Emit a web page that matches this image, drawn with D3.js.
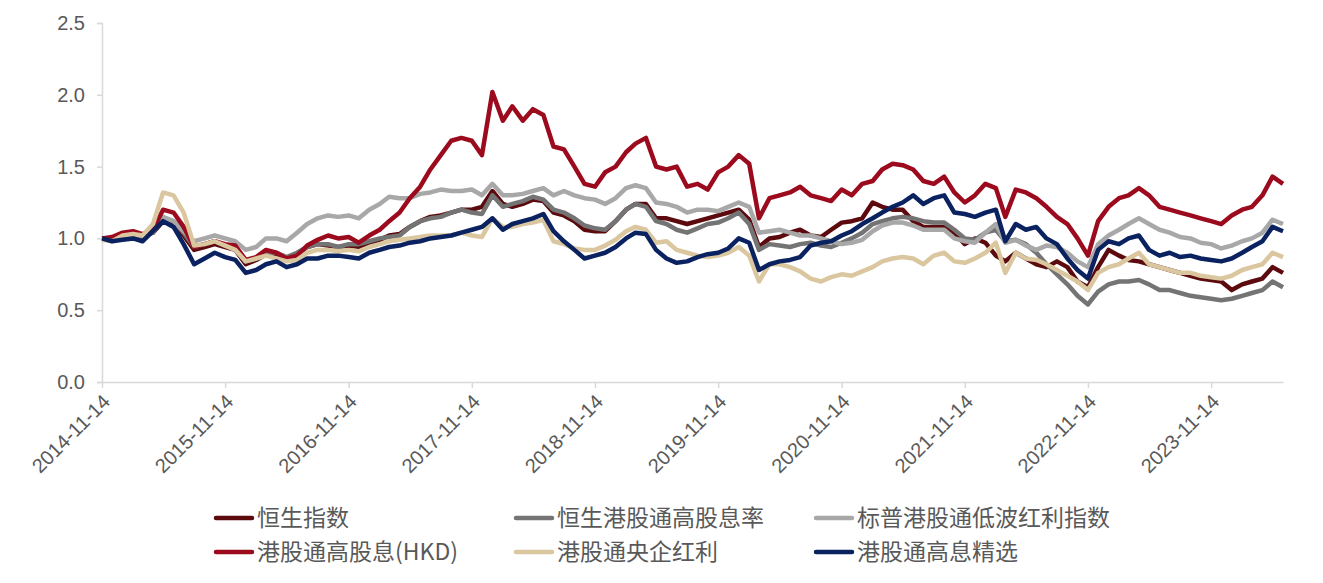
<!DOCTYPE html>
<html><head><meta charset="utf-8">
<script src="https://cdn.jsdelivr.net/npm/d3@7/dist/d3.min.js"></script>
<style>body{margin:0;background:#fff;}svg{display:block;}</style>
</head><body><svg id="c" width="1323" height="583"></svg>
<script>
const startDate = "2014-11-14";
const xTickLabels = ["2014-11-14","2015-11-14","2016-11-14","2017-11-14","2018-11-14","2019-11-14","2020-11-14","2021-11-14","2022-11-14","2023-11-14"];
const yTicks = [0.0,0.5,1.0,1.5,2.0,2.5];
const seriesNames = ["恒生指数","恒生港股通高股息率","标普港股通低波红利指数","港股通高股息(HKD)","港股通央企红利","港股通高息精选"];
const seriesColors = ["#5C0A0E","#747474","#A8A8A8","#9C0A1E","#DAC79F","#0B2260"];

const hsi = [1.00,1.00,1.03,1.03,1.02,1.04,1.12,1.10,1.02,0.92,
0.94,0.96,0.94,0.92,0.82,0.85,0.89,0.89,0.86,0.89,
0.94,0.96,0.95,0.94,0.95,0.94,0.97,0.99,1.02,1.03,
1.08,1.12,1.15,1.16,1.18,1.20,1.20,1.22,1.33,1.24,
1.22,1.24,1.27,1.26,1.18,1.16,1.12,1.06,1.05,1.05,
1.12,1.20,1.24,1.24,1.14,1.14,1.12,1.10,1.12,1.14,
1.16,1.18,1.20,1.13,0.94,1.00,1.01,1.04,1.06,1.02,
1.01,1.06,1.11,1.12,1.14,1.25,1.22,1.20,1.20,1.12,
1.08,1.08,1.08,1.04,0.96,1.00,0.97,0.88,0.84,0.90,
0.86,0.82,0.80,0.84,0.80,0.70,0.66,0.80,0.92,0.88,
0.85,0.84,0.82,0.80,0.78,0.76,0.74,0.72,0.71,0.70,
0.64,0.68,0.70,0.72,0.80,0.76];
const hsHighDiv = [1.00,0.99,1.01,1.02,1.01,1.04,1.14,1.12,1.04,0.94,
0.96,0.98,0.95,0.94,0.84,0.86,0.90,0.90,0.87,0.90,
0.94,0.96,0.96,0.94,0.96,0.96,0.98,1.00,1.01,1.02,
1.08,1.12,1.14,1.15,1.18,1.20,1.18,1.17,1.30,1.22,
1.24,1.26,1.29,1.27,1.20,1.18,1.14,1.09,1.07,1.06,
1.12,1.20,1.24,1.22,1.12,1.10,1.06,1.04,1.07,1.10,
1.11,1.14,1.18,1.10,0.92,0.96,0.95,0.94,0.96,0.97,
0.95,0.94,0.97,1.00,1.04,1.10,1.12,1.14,1.15,1.14,
1.12,1.11,1.11,1.06,1.00,0.99,1.04,1.06,0.98,0.99,
0.96,0.90,0.82,0.75,0.68,0.60,0.54,0.63,0.68,0.70,
0.70,0.71,0.68,0.64,0.64,0.62,0.60,0.59,0.58,0.57,
0.58,0.60,0.62,0.64,0.70,0.66];
const spLowVol = [1.00,1.00,1.02,1.03,1.02,1.05,1.15,1.12,1.05,0.98,
1.00,1.02,1.00,0.98,0.92,0.94,1.00,1.00,0.98,1.04,
1.10,1.14,1.16,1.15,1.16,1.14,1.20,1.24,1.29,1.28,
1.28,1.31,1.32,1.34,1.33,1.33,1.34,1.30,1.38,1.30,
1.30,1.31,1.33,1.35,1.30,1.33,1.30,1.28,1.27,1.24,
1.28,1.35,1.37,1.35,1.25,1.24,1.22,1.18,1.20,1.20,
1.19,1.22,1.25,1.22,1.04,1.05,1.06,1.04,1.02,1.02,
1.00,0.98,0.96,0.97,0.99,1.05,1.09,1.11,1.11,1.09,
1.06,1.06,1.06,1.00,0.98,0.97,1.04,1.10,0.97,0.99,
0.95,0.92,0.95,0.94,0.90,0.84,0.80,0.96,1.02,1.06,
1.10,1.14,1.10,1.06,1.04,1.01,1.00,0.97,0.96,0.93,
0.95,0.98,1.00,1.04,1.13,1.10];
const sbHighDiv = [1.00,1.01,1.04,1.05,1.03,1.06,1.20,1.18,1.08,0.94,
0.96,0.98,0.96,0.95,0.85,0.87,0.92,0.90,0.86,0.88,
0.95,0.99,1.02,1.00,1.01,0.97,1.02,1.06,1.12,1.18,
1.28,1.36,1.48,1.58,1.68,1.70,1.68,1.58,2.02,1.82,
1.92,1.82,1.90,1.86,1.64,1.62,1.50,1.38,1.36,1.46,
1.50,1.60,1.66,1.70,1.50,1.48,1.50,1.36,1.38,1.34,
1.46,1.50,1.58,1.52,1.14,1.28,1.30,1.32,1.36,1.30,
1.28,1.26,1.34,1.30,1.38,1.40,1.48,1.52,1.51,1.48,
1.40,1.38,1.43,1.32,1.25,1.30,1.38,1.35,1.15,1.34,
1.32,1.28,1.22,1.15,1.10,1.00,0.88,1.12,1.22,1.28,
1.30,1.35,1.30,1.22,1.20,1.18,1.16,1.14,1.12,1.10,
1.16,1.20,1.22,1.30,1.43,1.38];
const sbSoe = [0.99,0.98,1.02,1.03,1.02,1.10,1.32,1.30,1.18,0.95,
0.96,0.98,0.95,0.92,0.84,0.86,0.88,0.86,0.84,0.85,
0.90,0.92,0.92,0.91,0.92,0.91,0.94,0.96,0.98,0.99,
1.00,1.01,1.02,1.02,1.02,1.04,1.02,1.01,1.14,1.08,
1.08,1.10,1.11,1.13,0.98,0.96,0.93,0.92,0.92,0.95,
0.99,1.05,1.08,1.06,0.97,0.98,0.92,0.90,0.88,0.87,
0.88,0.90,0.94,0.88,0.70,0.82,0.82,0.80,0.77,0.72,
0.70,0.73,0.75,0.74,0.77,0.80,0.84,0.86,0.87,0.86,
0.82,0.88,0.90,0.84,0.83,0.86,0.90,0.97,0.76,0.90,
0.86,0.85,0.82,0.78,0.74,0.70,0.64,0.76,0.80,0.82,
0.86,0.90,0.82,0.80,0.78,0.76,0.76,0.74,0.73,0.72,
0.74,0.78,0.80,0.82,0.90,0.87];
const sbSelect = [1.00,0.98,0.99,1.00,0.98,1.05,1.12,1.08,0.96,0.82,
0.86,0.90,0.87,0.85,0.76,0.78,0.82,0.84,0.80,0.82,
0.86,0.86,0.88,0.88,0.87,0.86,0.90,0.92,0.94,0.95,
0.97,0.98,1.00,1.01,1.02,1.04,1.06,1.08,1.14,1.06,
1.10,1.12,1.14,1.17,1.05,0.98,0.92,0.86,0.88,0.90,
0.94,1.00,1.04,1.03,0.92,0.86,0.83,0.84,0.87,0.89,
0.90,0.93,1.00,0.97,0.78,0.82,0.84,0.85,0.87,0.95,
0.97,0.98,1.02,1.05,1.10,1.14,1.18,1.22,1.25,1.30,
1.24,1.28,1.30,1.18,1.17,1.15,1.18,1.20,0.98,1.10,
1.06,1.08,1.00,0.96,0.86,0.78,0.72,0.92,0.98,0.96,
1.00,1.02,0.92,0.88,0.90,0.87,0.88,0.86,0.85,0.84,
0.86,0.90,0.94,0.98,1.08,1.05];

const allSeries = [hsi, hsHighDiv, spLowVol, sbHighDiv, sbSoe, sbSelect];
const parse = d3.timeParse("%Y-%m-%d");
const t0 = parse(startDate);
const dates = hsi.map((_, i) => d3.timeMonth.offset(t0, i));
const endDate = dates[dates.length - 1];

const svg = d3.select("#c");
const mLeft = 102, mRight = 1283, mTop = 23, mBottom = 382;
const x = d3.scaleTime().domain([t0, endDate]).range([mLeft, mRight]);
const y = d3.scaleLinear().domain([0, 2.5]).range([mBottom, mTop]);

const axisColor = "#D9D9D9", textColor = "#595959";
const font = "'Liberation Sans', Arial, sans-serif";

// Y axis
const gy = svg.append("g").attr("transform", `translate(${mLeft},0)`)
  .call(d3.axisLeft(y).tickValues(yTicks).tickFormat(d3.format(".1f")).tickSize(5).tickPadding(12));
gy.select(".domain").attr("stroke", axisColor).attr("stroke-width", 1.5);
gy.selectAll(".tick line").attr("stroke", axisColor).attr("stroke-width", 1.5);
gy.selectAll(".tick text").attr("fill", textColor).style("font-family", font).style("font-size", "20px");

// X axis
const xTickDates = xTickLabels.map(parse);
const gx = svg.append("g").attr("transform", `translate(0,${mBottom})`)
  .call(d3.axisBottom(x).tickValues(xTickDates).tickFormat(d3.timeFormat("%Y-%m-%d")).tickSize(6).tickSizeOuter(0));
gx.select(".domain").attr("stroke", axisColor).attr("stroke-width", 1.5);
gx.selectAll(".tick line").attr("stroke", axisColor).attr("stroke-width", 1.5);
gx.selectAll(".tick text").attr("fill", textColor).style("font-family", font).style("font-size", "20px")
  .attr("text-anchor", "end").attr("dy", "0.35em")
  .attr("transform", "translate(4,16) rotate(-45)").attr("y", 0).attr("x", 0);

// lines
const line = d3.line().x((d, i) => x(dates[i])).y(d => y(d)).curve(d3.curveLinear);
allSeries.forEach((s, k) => {
  svg.append("path").datum(s).attr("d", line).attr("fill", "none")
    .attr("stroke", seriesColors[k]).attr("stroke-width", 4.5).attr("stroke-linejoin", "round");
});

// legend
const legX = [215, 515, 815], legY = [518, 552];
seriesNames.forEach((n, k) => {
  const lx = legX[k % 3], ly = legY[Math.floor(k / 3)];
  const g = svg.append("g").attr("transform", `translate(${lx},${ly})`);
  g.append("line").attr("x1", 1).attr("x2", 37).attr("y1", 0).attr("y2", 0)
    .attr("stroke", seriesColors[k]).attr("stroke-width", 4.5).attr("stroke-linecap", "round");
  g.append("text").attr("x", 42).attr("y", 0).attr("dy", "0.35em").text(n)
    .attr("fill", textColor).style("font-family", "'Noto Sans CJK SC', sans-serif").style("font-size", "23px");
});
</script></body></html>
